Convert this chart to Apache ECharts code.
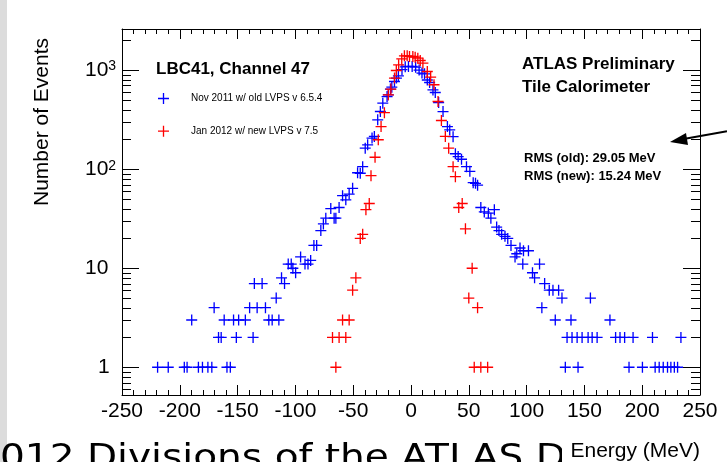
<!DOCTYPE html>
<html><head><meta charset="utf-8">
<script src="https://cdn.jsdelivr.net/npm/echarts@6/dist/echarts.min.js"></script>
<style>html,body{margin:0;padding:0;background:#fff;overflow:hidden}#c{width:727px;height:462px}</style>
</head><body><div id="c"></div>
<script>
// ---- data ----
const oldEnergy = [-219.2,-210,-196.1,-193.7,-189.7,-183.9,-180.4,-175.7,-172.3,-170.3,-166.5,-164.2,-161.6,-159.2,-156.3,-153.5,-151.1,-149.1,-143.3,-139.6,-136.6,-135.5,-133.1,-128.8,-125.9,-123,-120.1,-116.6,-114.3,-112,-109.4,-106.2,-103.6,-102.2,-99.8,-95.5,-91.7,-89.1,-86.8,-84,-81.6,-78,-75.8,-73.7,-69.4,-66.5,-65,-62.2,-59.2,-56.4,-53.5,-50.5,-46.2,-43.9,-41.8,-39.6,-37.5,-33.7,-31.7,-28.8,-26.5,-24.4,-20.7,-19.6,-17.8,-16.6,-14.3,-12.6,-10.9,-7.8,-5,-2.2,1,4,7,9.5,11.7,14.1,16.1,19,21,23.9,27.7,31.5,33.5,36.4,38.4,40.8,43.7,48,50.9,53.8,55.8,57.6,60.4,63.4,66.9,69.1,72.1,74.1,76.1,78.4,81.3,83.7,86.5,90,91.5,94.3,96.7,97.3,101.6,105.1,106.9,111.2,113.2,115.6,119.6,122.8,124.8,127.7,130.6,133.5,135,138.4,139.3,143.7,144.5,148,153.2,155.2,156.7,161,172.1,177,180.8,184.8,188.6,192.1,200.2,208.9,211.2,214.7,218.2,221.9,224.8,227.8,230.6,233.5];
const oldCounts = [1,1,1,1,3,1,1,1,1,4,2,2,3,1,1,3,2,3,3,4,2,7,4,7,4,3,3,5,3,8,7,11,11,10,9,13,11,11,12,17,17,24,28,32,40,32,32,41,54,49,56,64,92,91,106,163,176,206,214,315,382,464,541,563,643,673,767,830,876,1010,1080,1090,1090,1070,1000,933,918,795,750,631,594,471,381,269,249,213,143,134,126,106,95,73,72,69,41,37,36,32,39,26,24,22,21,20,17,13,14,16,11,15,15,9,8,11,4,7,6,6,3,6,5,1,2,3,2,2,1,2,2,5,2,2,3,2,2,2,1,2,1,2,1,1,1,1,1,1,1,2];
const newEnergy = [-67.9,-65,-62.2,-59.2,-56.4,-53.5,-50.5,-47.7,-43.9,-41.8,-39,-36.1,-34.6,-31.1,-28.3,-25.9,-23,-19.6,-17.4,-14.3,-12.7,-10.7,-8,-5.7,-3.3,-1.3,1.6,3.6,5.9,8,10.3,14.1,17,19.9,23.4,26.3,29.7,32.6,36.4,38.4,41.3,44.3,47.1,50,52.9,54.7,57.6,60.4,66.3];
const newCounts = [2,1,2,3,2,3,6,8,20,22,39,45,86,132,198,269,372,563,643,830,991,1130,1300,1395,1395,1371,1371,1350,1320,1250,1175,968,850,711,482,310,214,163,106,84,41,45,25,5,10,1,4,1,1];
const seriesNames = ['Nov 2011 w/ old LVPS v 6.5.4', 'Jan 2012 w/ new LVPS v 7.5'];
const xMin = -250, xMax = 250, xStep = 50;
const yMin = 0.525, yMax = 2600;
const yMinorTicks = [0.6,0.7,0.8,0.9,2,3,4,5,6,7,8,9,20,30,40,50,60,70,80,90,200,300,400,500,600,700,800,900,2000];

const FONT = 'Liberation Sans';
const plus = 'path://M4.4,0h1.2v4.4h4.4v1.2h-4.4v4.4h-1.2v-4.4h-4.4v-1.2h4.4z';
const oldData = oldEnergy.map((e, i) => [e, oldCounts[i]]);
const newData = newEnergy.map((e, i) => [e, newCounts[i]]);

function yLabel(v) {
  const l = Math.round(Math.log10(v));
  if (Math.abs(v - Math.pow(10, l)) > 1e-6 * v) return '';
  if (l === 0) return '{one|1}';
  if (l === 1) return '10';
  return '10{s|' + l + '}';
}

const chart = echarts.init(document.getElementById('c'), null, {renderer: 'canvas'});
const axisLineStyle = {color: '#000', width: 1};
chart.setOption({
  animation: false,
  backgroundColor: '#fff',
  grid: {left: 122, right: 27, top: 29, bottom: 67},
  legend: {
    orient: 'vertical', left: 153, top: 88, itemGap: 21.7,
    itemWidth: 11, itemHeight: 11,
    data: [{name: seriesNames[0], icon: plus}, {name: seriesNames[1], icon: plus}],
    textStyle: {fontFamily: FONT, fontSize: 10, color: '#000', padding: [0, 0, 0, 17], lineHeight: 11},
    selectedMode: false
  },
  xAxis: [{
    type: 'value', min: xMin, max: xMax, interval: xStep, position: 'bottom',
    axisLine: {show: true, onZero: false, lineStyle: axisLineStyle},
    axisTick: {show: true, inside: true, length: 10, lineStyle: axisLineStyle},
    minorTick: {show: true, splitNumber: 5, length: 5, lineStyle: axisLineStyle},
    splitLine: {show: false},
    axisLabel: {fontFamily: FONT, fontSize: 21, color: '#000', margin: 6, showMinLabel: true, showMaxLabel: true}
  }, {
    type: 'value', min: xMin, max: xMax, interval: xStep, position: 'top',
    axisLine: {show: true, onZero: false, lineStyle: axisLineStyle},
    axisTick: {show: true, inside: true, length: 10, lineStyle: axisLineStyle},
    minorTick: {show: true, splitNumber: 5, length: 5, lineStyle: axisLineStyle},
    splitLine: {show: false},
    axisLabel: {show: false}
  }],
  yAxis: [{
    type: 'log', logBase: 10, min: yMin, max: yMax, position: 'left',
    axisLine: {show: true, onZero: false, lineStyle: axisLineStyle},
    axisTick: {show: true, inside: true, length: 17, lineStyle: axisLineStyle},
    splitLine: {show: false},
    axisLabel: {
      fontFamily: FONT, fontSize: 21, color: '#000', align: 'left', margin: 37,
      formatter: yLabel,
      rich: {
        one: {fontFamily: FONT, fontSize: 21, color: '#000', padding: [0, 0, 0, 13]},
        s: {fontFamily: FONT, fontSize: 14, color: '#000', verticalAlign: 'top', lineHeight: 14, padding: [0, 0, 0, 0]}
      }
    }
  }, {
    type: 'log', logBase: 10, min: yMin, max: yMax, position: 'right',
    axisLine: {show: true, onZero: false, lineStyle: axisLineStyle},
    axisTick: {show: true, inside: true, length: 17, lineStyle: axisLineStyle},
    splitLine: {show: false},
    axisLabel: {show: false}
  }],
  series: [{
    type: 'custom', name: 'minorY', silent: true, xAxisIndex: 0, yAxisIndex: 0,
    data: yMinorTicks.map(v => [0, v]),
    renderItem: function (params, api) {
      const v = api.value(1);
      const pL = api.coord([xMin, v]);
      const pR = api.coord([xMax, v]);
      const y = Math.round(pL[1]) + 0.5;
      return {type: 'group', children: [
        {type: 'line', shape: {x1: pL[0], y1: y, x2: pL[0] + 9, y2: y}, style: {stroke: '#000', lineWidth: 1}},
        {type: 'line', shape: {x1: pR[0] - 9, y1: y, x2: pR[0], y2: y}, style: {stroke: '#000', lineWidth: 1}}
      ]};
    },
    z: 3
  }, {
    type: 'scatter', name: seriesNames[0], data: oldData,
    symbol: plus, symbolSize: 11,
    itemStyle: {color: '#0000ff', opacity: 1}, z: 4
  }, {
    type: 'scatter', name: seriesNames[1], data: newData,
    symbol: plus, symbolSize: 11,
    itemStyle: {color: '#ff0000', opacity: 1}, z: 5
  }],
  graphic: [
    {type: 'rect', shape: {x: 0, y: 0, width: 7, height: 462}, style: {fill: '#dcdcdc'}, z: -10},
    {type: 'text', x: -25, y: 442, scaleX: 1.15, z: -5,
      style: {text: '2012 Divisions of the ATLAS D', font: '34px "DejaVu Sans"', fill: '#000', align: 'left', verticalAlign: 'top'}},
    {type: 'rect', shape: {x: 562, y: 425, width: 165, height: 37}, style: {fill: '#fff'}, z: -4},
    {type: 'text', x: 42, y: 122, rotation: Math.PI / 2,
      style: {text: 'Number of Events', font: '21px "Liberation Sans"', fill: '#000', align: 'center', verticalAlign: 'middle'}},
    {type: 'text', x: 700, y: 451,
      style: {text: 'Energy (MeV)', font: '21px "Liberation Sans"', fill: '#000', align: 'right', verticalAlign: 'middle'}},
    {type: 'text', x: 156, y: 69,
      style: {text: 'LBC41, Channel 47', font: 'bold 17px "Liberation Sans"', fill: '#000', align: 'left', verticalAlign: 'middle'}},
    {type: 'text', x: 522, y: 64,
      style: {text: 'ATLAS Preliminary', font: 'bold 17px "Liberation Sans"', fill: '#000', align: 'left', verticalAlign: 'middle'}},
    {type: 'text', x: 522, y: 87,
      style: {text: 'Tile Calorimeter', font: 'bold 17px "Liberation Sans"', fill: '#000', align: 'left', verticalAlign: 'middle'}},
    {type: 'text', x: 524, y: 158,
      style: {text: 'RMS (old): 29.05 MeV', font: 'bold 13px "Liberation Sans"', fill: '#000', align: 'left', verticalAlign: 'middle'}},
    {type: 'text', x: 524, y: 176,
      style: {text: 'RMS (new): 15.24 MeV', font: 'bold 13px "Liberation Sans"', fill: '#000', align: 'left', verticalAlign: 'middle'}},
    {type: 'line', shape: {x1: 685, y1: 138.8, x2: 727, y2: 131.3}, style: {stroke: '#000', lineWidth: 2}},
    {type: 'polygon', shape: {points: [[670, 142], [686, 133], [688, 145]]}, style: {fill: '#000'}}
  ]
});
</script>
</body></html>
